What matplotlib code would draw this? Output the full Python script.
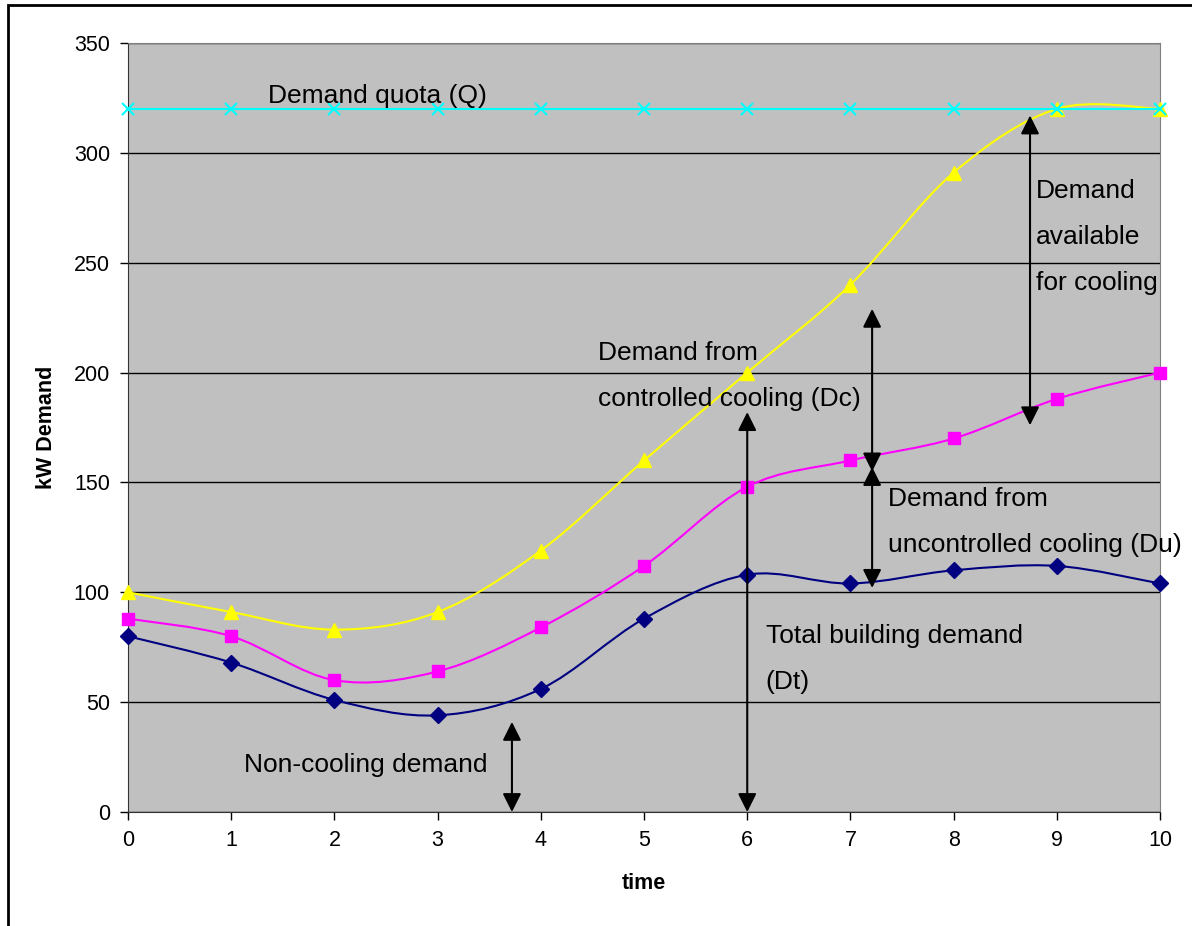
import matplotlib
matplotlib.use("Agg")

import numpy as np
import matplotlib.pyplot as plt
from matplotlib.path import Path
from matplotlib.patches import PathPatch, Rectangle

# ============ data ============
time = [0, 1, 2, 3, 4, 5, 6, 7, 8, 9, 10]
total_dt = [80, 68, 51, 44, 56, 88, 108, 104, 110, 112, 104]
uncontrolled_du = [88, 80, 60, 64, 84, 112, 148, 160, 170, 188, 200]
controlled_dc = [100, 91, 83, 91, 119, 160, 200, 240, 291, 320, 320]
quota_q = [320, 320, 320, 320, 320, 320, 320, 320, 320, 320, 320]

# arrows: (x, y_start, y_end)
arrows = [
    (3.72, 0, 41),      # non-cooling demand
    (6.0, 0, 182),      # total building demand
    (7.21, 155, 229),   # controlled cooling
    (7.21, 102, 157),   # uncontrolled cooling
    (8.74, 176, 317),   # available for cooling
]

# text blocks: (x, top line y, lines)
labels = [
    (1.36, 326, ["Demand quota (Q)"]),
    (4.55, 209, ["Demand from", "controlled cooling (Dc)"]),
    (7.36, 142.5, ["Demand from", "uncontrolled cooling (Du)"]),
    (6.18, 80, ["Total building demand", "(Dt)"]),
    (1.12, 21.5, ["Non-cooling demand"]),
    (8.80, 282.7, ["Demand", "available", "for cooling"]),
]

plt.rcParams["font.family"] = ["Liberation Sans", "DejaVu Sans"]


def smooth_path(xs, ys):
    # Excel-style smoothed line: cubic Bezier with Catmull-Rom control points
    pts = np.column_stack([xs, ys]).astype(float)
    verts = [pts[0]]
    codes = [Path.MOVETO]
    n = len(pts)
    for i in range(n - 1):
        p0 = pts[max(i - 1, 0)]
        p1 = pts[i]
        p2 = pts[i + 1]
        p3 = pts[min(i + 2, n - 1)]
        c1 = p1 + (p2 - p0) / 6.0
        c2 = p2 - (p3 - p1) / 6.0
        verts += [c1, c2, p2]
        codes += [Path.CURVE4] * 3
    return Path(verts, codes)


fig = plt.figure(figsize=(11.92, 9.26), dpi=100)
ax = fig.add_axes([0.1074, 0.1231, 0.8658, 0.8305])
ax.set_facecolor("#C0C0C0")

series = [
    (total_dt, "#000080", "D", 8.5),
    (uncontrolled_du, "#FF00FF", "s", 8.5),
    (controlled_dc, "#FFFF00", "^", 10),
    (quota_q, "#00FFFF", "x", 9),
]
for k, (vals, col, mk, ms) in enumerate(series):
    if vals is quota_q:
        ax.plot(time, vals, color=col, lw=1.5, zorder=4 + k)
    else:
        ax.add_patch(PathPatch(smooth_path(time, vals), facecolor="none",
                               edgecolor=col, lw=1.5, zorder=4 + k))
    ax.plot(time, vals, ls="none", marker=mk, ms=ms, color=col,
            markeredgecolor=col, markeredgewidth=1.5 if mk == "x" else 1,
            zorder=4 + k, clip_on=False)

for x, y0, y1 in arrows:
    ax.annotate("", xy=(x, y1), xytext=(x, y0),
                arrowprops=dict(arrowstyle="<|-|>", color="black", lw=1.5,
                                mutation_scale=28, shrinkA=0, shrinkB=0),
                zorder=10)

line_step = 21.0
for x, y, lines in labels:
    for i, s in enumerate(lines):
        ax.text(x, y - i * line_step, s, fontsize=19, ha="left",
                va="center", color="black", zorder=11)

ax.set_xlim(0, 10)
ax.set_ylim(0, 350)
ax.set_xticks(time)
ax.set_yticks(np.arange(0, 351, 50))
ax.yaxis.grid(True, color="black", lw=1)
ax.set_axisbelow(True)
ax.tick_params(direction="out", length=6, width=1, labelsize=15.5, pad=7)

ax.set_xlabel("time", fontsize=15.5, fontweight="bold", labelpad=16)
ax.set_ylabel("kW Demand", fontsize=15.5, fontweight="bold", labelpad=12)

ax.spines["left"].set_color("#333333")
ax.spines["bottom"].set_color("#333333")
ax.spines["top"].set_color("#808080")
ax.spines["right"].set_color("#808080")

# outer chart frame (cropped on the right and bottom)
fig.patches.append(Rectangle((0.0067, -0.1), 1.2, 1.0946, transform=fig.transFigure,
                             fill=False, edgecolor="black", lw=2))

plt.savefig("out.png", dpi=100)
